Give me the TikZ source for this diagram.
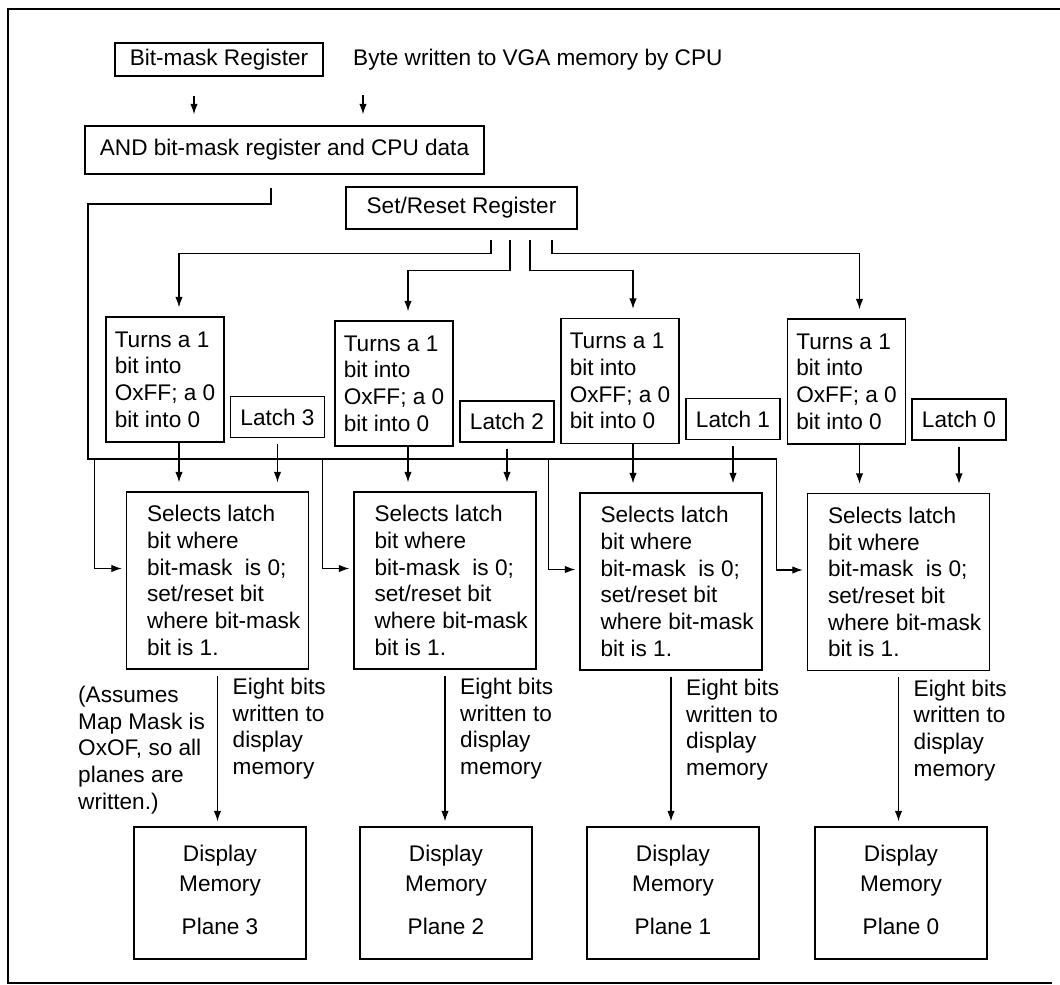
\documentclass[tikz,border=0pt]{standalone}
\usepackage{fontspec}
\setmainfont{Liberation Sans}
\usetikzlibrary{arrows.meta,calc}
\begin{document}
\begin{tikzpicture}[x=1pt,y=-1pt,
  txt/.style={font=\fontsize{22.6}{26.7}\selectfont, inner sep=0pt, align=left},
  box/.style={draw, line width=1.4pt, inner sep=0pt, font=\fontsize{22.6}{26.7}\selectfont},
  turnbox/.style={box, align=left, minimum width=118, minimum height=125},
  latchbox/.style={box, minimum width=94, minimum height=41},
  selbox/.style={box, minimum width=182, minimum height=177},
  dispbox/.style={box, minimum width=172, minimum height=132},
  ln/.style={line width=1.2pt},
  arr/.style={line width=1.2pt, -{Latex[length=10.5pt,width=7.5pt]}}]
\useasboundingbox (0,0) rectangle (1060,985);
% frame
\draw[line width=2pt] (1060,9) -- (8,9) -- (8,983) -- (1052,983);

% top
\node[box, minimum width=208, minimum height=33] (bm) at (219,59.5) {Bit-mask Register};
\node[txt, anchor=west] (cpu) at (353,60) {Byte written to VGA memory by CPU};
\node[box, minimum width=399, minimum height=48] (and) at (284.5,150) {AND bit-mask register and CPU data};
\node[box, minimum width=231, minimum height=42] (sr) at (461.5,208) {Set/Reset Register};

% turns boxes
\node[turnbox] (t3) at (165,379.5) {Turns a 1\\bit into\\OxFF; a 0\\bit into 0};
\node[turnbox] (t2) at (394,383.5) {Turns a 1\\bit into\\OxFF; a 0\\bit into 0};
\node[turnbox] (t1) at (620,381) {Turns a 1\\bit into\\OxFF; a 0\\bit into 0};
\node[turnbox] (t0) at (846.5,381.5) {Turns a 1\\bit into\\OxFF; a 0\\bit into 0};

% latches
\node[latchbox] (l3) at (277.5,417) {Latch 3};
\node[latchbox] (l2) at (507,421.5) {Latch 2};
\node[latchbox] (l1) at (733,419) {Latch 1};
\node[latchbox] (l0) at (959,419.5) {Latch 0};

% select boxes
\node[selbox] (s3) at (217.5,580.5) {};
\node[selbox] (s2) at (445,580.5) {};
\node[selbox] (s1) at (671,581.5) {};
\node[selbox] (s0) at (898.5,582) {};
\foreach \s in {s3,s2,s1,s0}{
  \node[txt, anchor=west] (\s t) at ($(\s.west)+(21,0)$)
    {Selects latch\\bit where\\bit-mask~ is 0;\\set/reset bit\\where bit-mask\\bit is 1.};
}

% display memory boxes
\node[dispbox] (d3) at (220,893) {};
\node[dispbox] (d2) at (446,893) {};
\node[dispbox] (d1) at (673,893) {};
\node[dispbox] (d0) at (901,893) {};
\foreach \d/\n in {d3/3,d2/2,d1/1,d0/0}{
  \node[txt, align=center] (\d t) at ($(\d.center)+(0,-3)$) {Display\\[3pt]Memory\\[16pt]Plane \n};
}

% eight bits labels
\foreach \s in {s3,s2,s1,s0}{
  \node[txt, anchor=west] (\s e) at ($(\s.south)+(15,59)$) {Eight bits\\written to\\display\\memory};
}
\node[txt, anchor=west] (note) at (78,750) {(Assumes\\Map Mask is\\OxOF, so all\\planes are\\written.)};

% connectors top
\draw[arr, shorten >=11pt] ($(bm.south)+(-25,19)$) -- ($(bm.south |- and.north)+(-25,0)$);
\draw[arr, shorten >=11pt] ($(cpu.west)+(10,35)$) -- ($(cpu.west |- and.north)+(10,0)$);

% bus from AND
\coordinate (busL) at (88,204);
\coordinate (busC) at (88,459);
\coordinate (busR) at ($(s0.west |- busC)+(-30,0)$);
\draw[ln] ($(and.south)+(-13.5,13)$) |- (busL) -- (busC) -- (busR);
\foreach \s in {s3,s2,s1}{
  \draw[arr, shorten >=4pt] ($(\s.west |- busC)+(-31,0)$) |- ([yshift=12pt]\s.west);
}
\draw[arr, shorten >=4pt] (busR) |- ([yshift=12pt]s0.west);

% set/reset outputs
\draw[arr, shorten >=9pt] ($(sr.south)+(29.5,10)$) -- ++(0,14) -| ([xshift=14pt]t3.north);
\draw[arr, shorten >=9pt] ($(sr.south)+(48.5,10)$) -- ++(0,31) -| ([xshift=14pt]t2.north);
\draw[arr, shorten >=9pt] ($(sr.south)+(68.5,10)$) -- ++(0,31) -| ([xshift=13pt]t1.north);
\draw[arr, shorten >=9pt] ($(sr.south)+(90.5,10)$) -- ++(0,14) -| ([xshift=13pt]t0.north);

% turns -> selects, latch -> selects
\foreach \t/\l/\s/\dx in {t3/l3/s3/14,t2/l2/s2/14,t1/l1/s1/13,t0/l0/s0/13}{
  \draw[arr, shorten >=9pt] ([xshift=\dx pt]\t.south) -- ([xshift=\dx pt]\t.south |- \s.north);
  \draw[arr, shorten <=6pt, shorten >=9pt] (\l.south) -- (\l.south |- \s.north);
}

% selects -> display
\foreach \s/\d in {s3/d3,s2/d2,s1/d1,s0/d0}{
  \draw[arr, shorten <=6pt, shorten >=5pt] (\s.south) -- (\s.south |- \d.north);
}
\end{tikzpicture}
\end{document}
